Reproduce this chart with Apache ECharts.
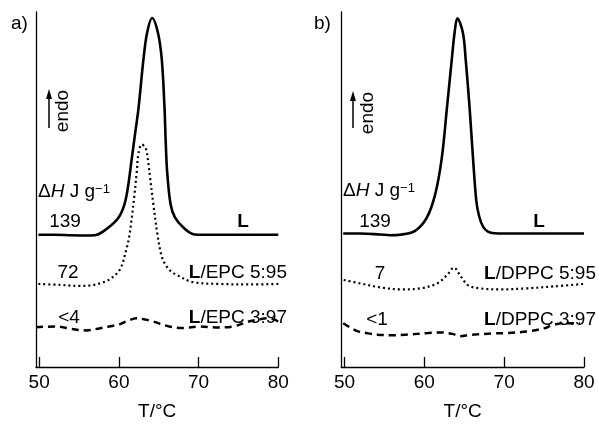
<!DOCTYPE html>
<html>
<head>
<meta charset="utf-8">
<script src="https://cdn.jsdelivr.net/npm/echarts@6/dist/echarts.min.js"></script>
<style>
html,body{margin:0;padding:0;background:#fff;}
#c{width:599px;height:426px;}
</style>
</head>
<body>
<div id="c"></div>
<script>
// ---- data (T in °C, heat flow in arbitrary units) ----
const tickValues = [50, 60, 70, 80];

const a_L = [[49.9,133.7],[52,133.7],[54,133.2],[56.4,133],[57.43,134.3],[58.69,141],[59.94,151],[60.69,164.3],[61.12,181],[61.62,211],[61.95,231],[62.45,261],[63.08,311],[63.54,338],[64.17,353],[64.9,338],[65.38,311],[65.73,261],[65.86,231],[66.05,198],[66.49,164.3],[67.05,151],[68.09,141],[69.34,134.3],[70.5,133.7],[75,133.7],[80,133.7]];
const a_EPC595 = [[49.9,84],[52.6,83],[55,82],[56.4,82.5],[57.8,85],[58.9,89],[60.15,99],[61.0,121],[61.32,133],[61.62,151],[61.95,174],[62.25,198],[62.45,216],[62.87,225],[63.37,221],[63.62,211],[63.92,191],[64.33,164.3],[64.83,134.3],[65.3,114],[65.8,104],[66.5,97],[67.3,93],[69.2,86],[72.7,84],[76.5,83.5],[80.0,84]];
const a_EPC397 = [[49.6,40.3],[52.1,41],[54,38.5],[55.9,37],[57.5,39],[58.8,41],[60,43],[60.9,46],[62.2,49.3],[63.3,48],[64.3,46],[66.3,41],[68,39.5],[70.1,41],[72.2,40],[74.3,41],[76.3,46],[77.5,48],[78.9,49.3],[80,46]];

const b_L = [[49.84,135],[52,135],[54.47,134],[55.71,133.3],[56.97,133.8],[58.85,137.7],[60.31,151],[61.35,174.3],[62.18,211],[62.82,261],[63.44,311],[63.79,338],[64.14,352.7],[64.83,338],[65.18,311],[65.68,261],[66.1,211],[66.51,168],[66.85,153],[67.35,142],[67.97,137],[68.8,135.3],[70,135],[75,135],[80,135]];
const b_DPPC595 = [[49.9,88],[52,84.5],[54.5,80.5],[57,78.5],[59.5,79.5],[61.6,84.5],[62.8,92.5],[63.7,100.5],[64.5,92.5],[65.5,82.5],[67,79.5],[69.5,78.5],[72.8,79.5],[76.2,81.5],[80,84]];
const b_DPPC397 = [[49.84,44.3],[50.7,40],[51.7,36],[53,34],[54.2,32.7],[56,32],[57.6,32.7],[60.5,34.3],[62,35],[63.5,33.5],[64.5,31],[65.7,32.5],[66.7,33],[68.5,34],[70.1,34.3],[73,36],[75.1,39.3],[75.9,42],[77.4,44.3],[79.5,44]];

const FONT = '"Liberation Sans", Arial, Helvetica, sans-serif';
const chart = echarts.init(document.getElementById('c'), null, {renderer: 'canvas'});

function xAxisCfg(gi) {
  return {
    type: 'value', gridIndex: gi, min: 49.6, max: 80,
    name: 'T/°C', nameLocation: 'middle', nameGap: 35,
    nameTextStyle: {fontSize: 19, fontFamily: FONT, color: '#000'},
    axisLine: {show: true, onZero: false, lineStyle: {color: '#000', width: 1.3}},
    axisTick: {show: true, inside: true, length: 10, customValues: tickValues, lineStyle: {color: '#000', width: 1.3}},
    axisLabel: {show: true, customValues: tickValues, fontSize: 19, fontFamily: FONT, color: '#000', margin: 6},
    splitLine: {show: false}
  };
}
function yAxisCfg(gi) {
  return {
    type: 'value', gridIndex: gi, min: 0, max: 359,
    axisLine: {show: true, onZero: false, lineStyle: {color: '#000', width: 1.3}},
    axisTick: {show: false}, axisLabel: {show: false}, splitLine: {show: false}
  };
}
function ser(data, gi, type, width) {
  return {
    type: 'line', xAxisIndex: gi, yAxisIndex: gi, data: data,
    showSymbol: false, symbol: 'none', smooth: 0.35, animation: false,
    lineStyle: {color: '#000', width: width, type: type, cap: 'butt'}
  };
}

function txt(x, y, text, align, extra) {
  return {
    type: 'text', silent: true,
    style: Object.assign({x: x, y: y, text: text, textAlign: align || 'left', textVerticalAlign: 'middle',
      font: '19px ' + FONT, fill: '#000'}, extra || {})
  };
}
function richTxt(x, y, text, align, rich) {
  return {
    type: 'text', silent: true,
    style: {x: x, y: y, text: text, textAlign: align, textVerticalAlign: 'middle',
      fontSize: 19, fontFamily: FONT, fill: '#000', rich: rich}
  };
}
const richBase = {
  n: {fontSize: 19, fontFamily: FONT, fill: '#000'},
  b: {fontSize: 19, fontFamily: FONT, fontWeight: 'bold', fill: '#000'},
  i: {fontSize: 19, fontFamily: FONT, fontStyle: 'italic', fill: '#000'},
  s: {fontSize: 13, fontFamily: FONT, fill: '#000', verticalAlign: 'top', lineHeight: 19}
};
function arrow(x, yTop, yBot) {
  return [
    {type: 'line', silent: true, shape: {x1: x, y1: yBot, x2: x, y2: yTop + 8}, style: {stroke: '#000', lineWidth: 1.5}},
    {type: 'polygon', silent: true, shape: {points: [[x, yTop], [x - 3, yTop + 10], [x + 3, yTop + 10]]}, style: {fill: '#000'}}
  ];
}
function rot(x, y, text) {
  return {
    type: 'text', silent: true, x: x, y: y, rotation: Math.PI / 2,
    style: {x: 0, y: 0, text: text, textAlign: 'center', textVerticalAlign: 'middle', font: '19px ' + FONT, fill: '#000'}
  };
}

const graphics = [].concat(
  [txt(11, 24, 'a)'), txt(314, 24, 'b)')],
  arrow(49, 89, 128), arrow(353, 91, 128),
  [rot(63, 111, 'endo'), rot(368, 113, 'endo')],
  [richTxt(38, 192, '{n|Δ}{i|H}{n| J g}{s|−1}', 'left', richBase),
   richTxt(343, 191, '{n|Δ}{i|H}{n| J g}{s|−1}', 'left', richBase)],
  [txt(65, 222, '139', 'center'), txt(375, 222, '139', 'center'),
   txt(243, 222, 'L', 'center', {font: 'bold 19px ' + FONT}),
   txt(539, 222, 'L', 'center', {font: 'bold 19px ' + FONT}),
   txt(68, 273, '72', 'center'), txt(380, 274, '7', 'center'),
   txt(69, 318, '<4', 'center'), txt(377, 320, '<1', 'center'),
   richTxt(287, 273, '{b|L}{n|/EPC 5:95}', 'right', richBase),
   richTxt(287, 318, '{b|L}{n|/EPC 3:97}', 'right', richBase),
   richTxt(596, 274, '{b|L}{n|/DPPC 5:95}', 'right', richBase),
   richTxt(596, 320, '{b|L}{n|/DPPC 3:97}', 'right', richBase)]
);

chart.setOption({
  backgroundColor: '#fff',
  animation: false,
  grid: [
    {left: 36, right: 599 - 278.3, top: 12, bottom: 55, containLabel: false},
    {left: 341.3, right: 15, top: 12, bottom: 55, containLabel: false}
  ],
  xAxis: [xAxisCfg(0), xAxisCfg(1)],
  yAxis: [yAxisCfg(0), yAxisCfg(1)],
  series: [
    ser(a_L, 0, 'solid', 2.6),
    ser(a_EPC595, 0, [2, 3], 2.2),
    ser(a_EPC397, 0, [7, 5], 2.5),
    ser(b_L, 1, 'solid', 2.6),
    ser(b_DPPC595, 1, [2, 3], 2.2),
    ser(b_DPPC397, 1, [7, 5], 2.5)
  ],
  graphic: graphics
});
</script>
</body>
</html>
